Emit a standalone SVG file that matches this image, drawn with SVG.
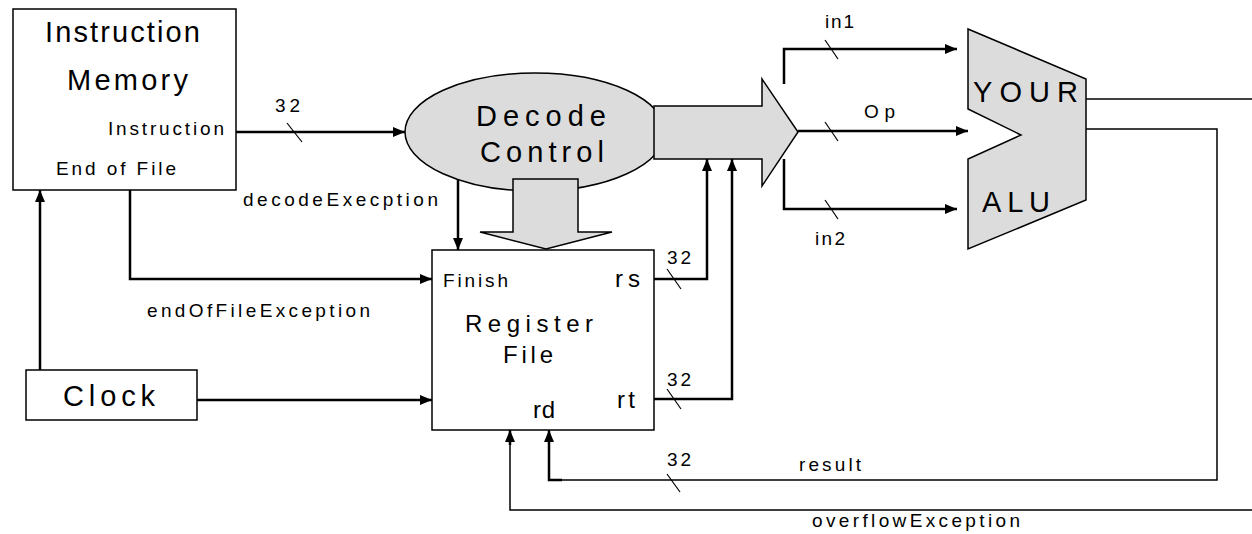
<svg xmlns="http://www.w3.org/2000/svg" width="1252" height="534" viewBox="0 0 1252 534">
  <defs>
    <marker id="arrow" viewBox="0 0 12 10" refX="12" refY="5" markerWidth="12" markerHeight="10" markerUnits="userSpaceOnUse" orient="auto">
      <path d="M0,0 L12,5 L0,10 Z" fill="#000"/>
    </marker>
    <style>
      text { font-family: "Liberation Sans", Arial, sans-serif; fill: #000; }
      .box { fill: #fff; stroke: #000; stroke-width: 1.5; }
      .shape { fill: #dcdcdc; stroke: #000; stroke-width: 1.5; }
      .wire { fill: none; stroke: #000; stroke-width: 2.5; }
      .thin { fill: none; stroke: #000; stroke-width: 1.5; }
      .tick { fill: none; stroke: #000; stroke-width: 1.2; }
      .big { font-size: 29px; }
      .mid { font-size: 24px; }
      .small { font-size: 19px; }
    </style>
  </defs>

  <rect width="1252" height="534" fill="#fff"/>

  <!-- wires -->
  <g id="connectors">
    <path class="wire" d="M236,132 H405" marker-end="url(#arrow)"/>
    <path class="tick" d="M287,123 L302,142"/>
    <text class="small" x="275" y="112" textLength="25" lengthAdjust="spacing">32</text>

    <path class="wire" d="M458,180 V250" marker-end="url(#arrow)"/>
    <text class="small" x="243" y="206" textLength="195" lengthAdjust="spacing">decodeExecption</text>

    <path class="wire" d="M130,190 V279 H432" marker-end="url(#arrow)"/>
    <text class="small" x="147" y="317" textLength="223" lengthAdjust="spacing">endOfFileException</text>

    <path class="wire" d="M40,370 V190" marker-end="url(#arrow)"/>
    <path class="wire" d="M197,400 H432" marker-end="url(#arrow)"/>

    <path class="wire" d="M654,279 H707 V159" marker-end="url(#arrow)"/>
    <path class="tick" d="M667,269 L681,289"/>
    <text class="small" x="667" y="264" textLength="24" lengthAdjust="spacing">32</text>

    <path class="wire" d="M654,399 H732 V159" marker-end="url(#arrow)"/>
    <path class="tick" d="M667,389 L681,409"/>
    <text class="small" x="667" y="386" textLength="24" lengthAdjust="spacing">32</text>

    <path class="wire" d="M784,84 V49 H957" marker-end="url(#arrow)"/>
    <path class="tick" d="M825,40 L838,59"/>
    <text class="small" x="825" y="28" textLength="29" lengthAdjust="spacing">in1</text>

    <path class="wire" d="M798,131 H968" marker-end="url(#arrow)"/>
    <path class="tick" d="M825,122 L838,141"/>
    <text class="small" x="864" y="118" textLength="31" lengthAdjust="spacing">Op</text>

    <path class="wire" d="M784,159 V209 H957" marker-end="url(#arrow)"/>
    <path class="tick" d="M825,200 L838,219"/>
    <text class="small" x="815" y="245" textLength="30" lengthAdjust="spacing">in2</text>

    <path class="thin" d="M1086,99 H1252"/>
    <path class="thin" d="M1086,129 H1217 V480 H560"/>
    <path class="wire" d="M562,480 H549 V430" marker-end="url(#arrow)"/>
    <path class="tick" d="M667,474 L680,492"/>
    <text class="small" x="667" y="466" textLength="24" lengthAdjust="spacing">32</text>
    <text class="small" x="799" y="471" textLength="62" lengthAdjust="spacing">result</text>

    <path class="thin" d="M1252,510 H510 V440"/>
    <path class="wire" d="M510,445 V430" marker-end="url(#arrow)"/>
    <text class="small" x="812" y="527" textLength="208" lengthAdjust="spacing">overflowException</text>
  </g>

  <!-- instruction memory -->
  <g id="instruction-memory">
    <rect class="box" x="13" y="9" width="223" height="181"/>
    <text class="big" x="45" y="42" textLength="155" lengthAdjust="spacing">Instruction</text>
    <text class="big" x="67" y="90" textLength="121" lengthAdjust="spacing">Memory</text>
    <text class="small" x="108" y="135" textLength="116" lengthAdjust="spacing">Instruction</text>
    <text class="small" x="56" y="175" textLength="120" lengthAdjust="spacing">End of File</text>
  </g>

  <!-- decode / control unit -->
  <g id="decode-control">
    <ellipse class="shape" cx="535" cy="132" rx="130" ry="59"/>
    <text class="big" x="476" y="126" textLength="130" lengthAdjust="spacing">Decode</text>
    <text class="big" x="480" y="162" textLength="124" lengthAdjust="spacing">Control</text>
  </g>

  <!-- block arrow feeding the ALU -->
  <g id="control-bus">
    <path class="shape" d="M654,106 H762 V79 L798,132 L762,186 V159 H654 Z"/>
  </g>

  <!-- block arrow feeding the register file -->
  <g id="control-down">
    <path class="shape" d="M513,179 H578 V232 H612 L546,249 L480,232 H513 Z"/>
  </g>

  <!-- register file -->
  <g id="register-file">
    <rect class="box" x="432" y="250" width="222" height="180"/>
    <text class="small" x="443" y="287" textLength="65" lengthAdjust="spacing">Finish</text>
    <text class="mid" x="615" y="287" textLength="25" lengthAdjust="spacing">rs</text>
    <text class="mid" x="465" y="332" font-size="26" textLength="128" lengthAdjust="spacing">Register</text>
    <text class="mid" x="503" y="363" font-size="26" textLength="50" lengthAdjust="spacing">File</text>
    <text class="mid" x="617" y="408" textLength="18" lengthAdjust="spacing">rt</text>
    <text class="mid" x="533" y="418" textLength="22" lengthAdjust="spacing">rd</text>
  </g>

  <!-- clock -->
  <g id="clock">
    <rect class="box" x="26" y="370" width="171" height="50"/>
    <text class="big" x="63" y="406" textLength="92" lengthAdjust="spacing">Clock</text>
  </g>

  <!-- ALU -->
  <g id="alu">
    <path class="shape" d="M968,29 L1086,79 V200 L968,249 V159 L1021,135 L968,109 Z"/>
    <text class="big" x="973" y="102" font-size="30" textLength="105" lengthAdjust="spacing">YOUR</text>
    <text class="big" x="982" y="212" font-size="30" textLength="68" lengthAdjust="spacing">ALU</text>
  </g>
</svg>
